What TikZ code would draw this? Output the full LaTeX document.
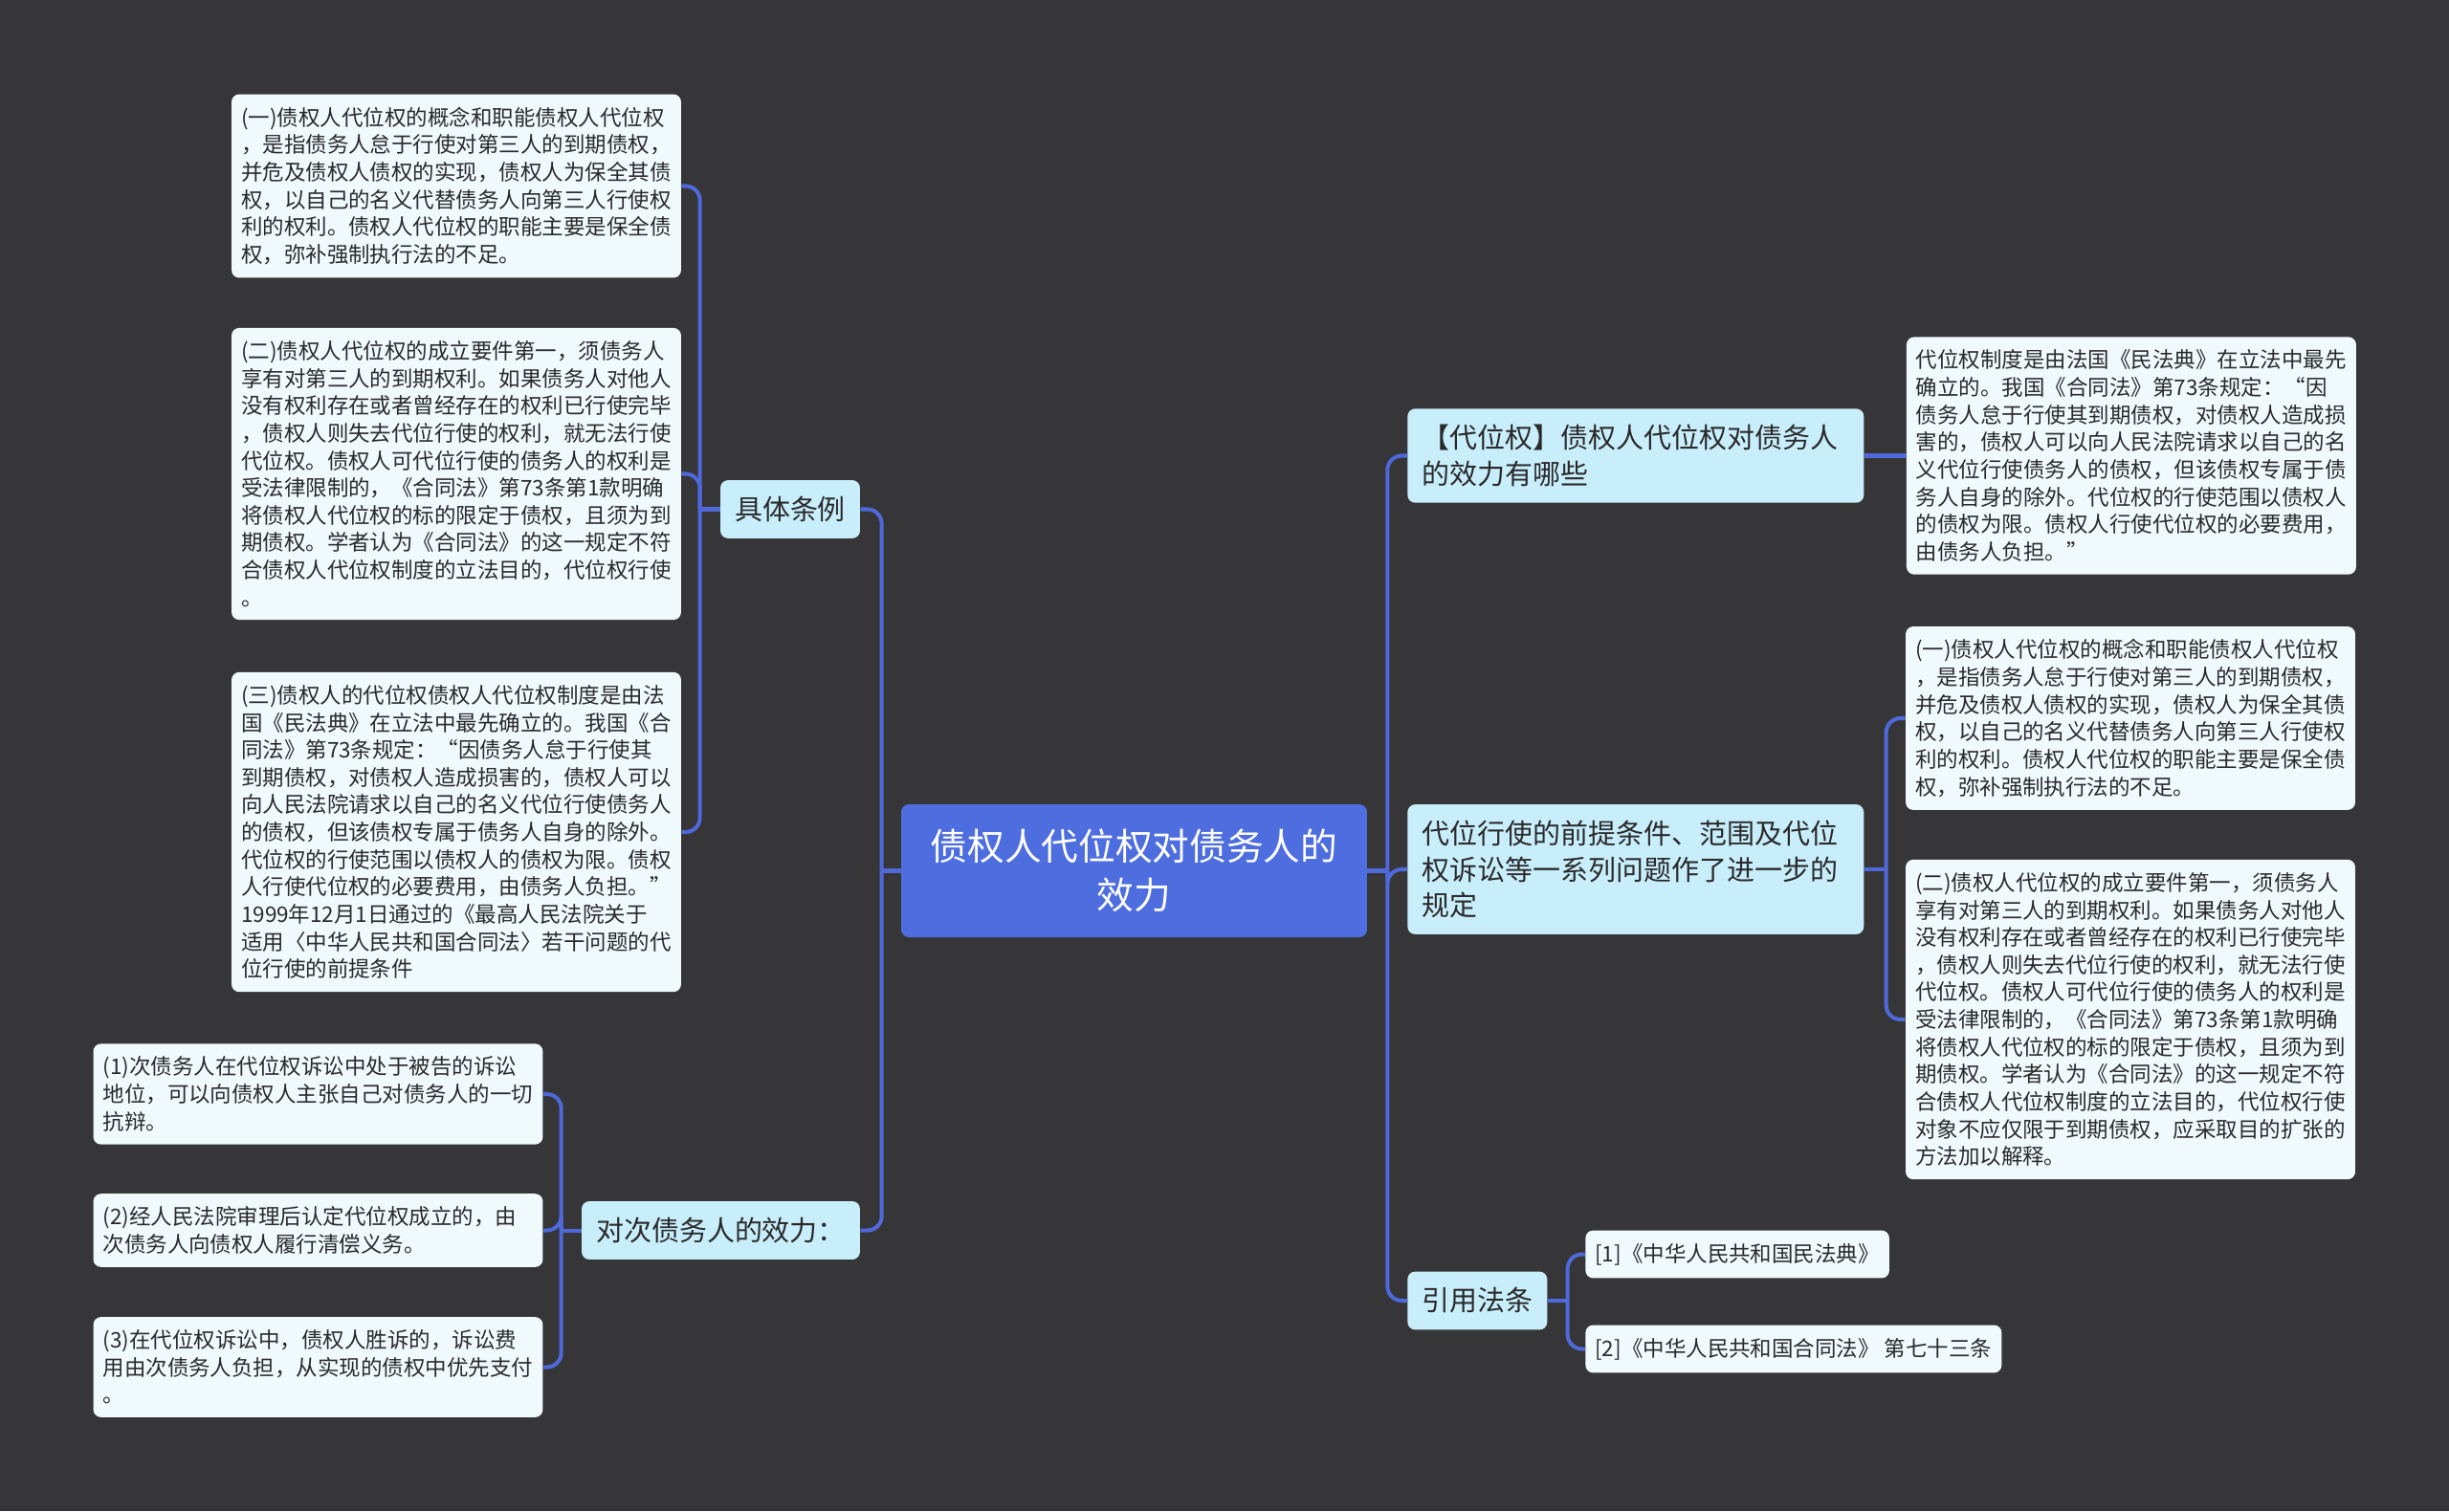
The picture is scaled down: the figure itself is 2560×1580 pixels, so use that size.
\documentclass[tikz,border=0pt]{standalone}
\usepackage{fontspec}
\setmainfont{Noto Sans CJK SC}
\usepackage{xcolor}
\usetikzlibrary{positioning}

\definecolor{bgdark}{HTML}{363638}
\definecolor{rootblue}{HTML}{4E6EE0}
\definecolor{branchblue}{HTML}{C8EDFB}
\definecolor{leafwhite}{HTML}{F0FAFD}
\definecolor{linkblue}{HTML}{4F68DA}
\definecolor{inktext}{HTML}{2A2A2A}

\tikzset{
  root/.style={fill=rootblue, text=white, rounded corners=0.16cm, align=center,
    font=\fontsize{22pt}{28.8pt}\selectfont, minimum width=9.74cm, minimum height=2.78cm},
  branch/.style={fill=branchblue, text=inktext, rounded corners=0.16cm, align=left,
    font=\fontsize{16.5pt}{21.3pt}\selectfont, inner xsep=0.3cm, inner ysep=0.34cm},
  leafbase/.style={fill=leafwhite, text=inktext, rounded corners=0.16cm, align=left,
    font=\fontsize{12.8pt}{16.3pt}\selectfont, inner xsep=0.2cm, inner ysep=0.27cm},
  leaf/.style={leafbase, text width=9cm},
  link/.style={draw=linkblue, line width=2.3pt, rounded corners=0.3cm}
}

\begin{document}
\begin{tikzpicture}[x=0.02cm, y=-0.02cm]
    \fill[bgdark] (0,0) rectangle (2560,1580);
    \useasboundingbox (0,0) rectangle (2560,1580);

    % centre
    \node[root] (root) at (1185.5,910.5) {债权人代位权对债务人的\\效力};

    % left side
    \node[branch] (cases) at (826,532.5) {具体条例};
    \node[branch] (third) at (753.5,1286.5) {对次债务人的效力：};

    \node[leaf] (cA) at (477,194.5) {(一)债权人代位权的概念和职能债权人代位权\\
      ，是指债务人怠于行使对第三人的到期债权，\\
      并危及债权人债权的实现，债权人为保全其债\\
      权，以自己的名义代替债务人向第三人行使权\\
      利的权利。债权人代位权的职能主要是保全债\\
      权，弥补强制执行法的不足。};
    \node[leaf] (cB) at (477,495.5) {(二)债权人代位权的成立要件第一，须债务人\\
      享有对第三人的到期权利。如果债务人对他人\\
      没有权利存在或者曾经存在的权利已行使完毕\\
      ，债权人则失去代位行使的权利，就无法行使\\
      代位权。债权人可代位行使的债务人的权利是\\
      受法律限制的，《合同法》第73条第1款明确\\
      将债权人代位权的标的限定于债权，且须为到\\
      期债权。学者认为《合同法》的这一规定不符\\
      合债权人代位权制度的立法目的，代位权行使\\
      。};
    \node[leaf] (cC) at (477,870) {(三)债权人的代位权债权人代位权制度是由法\\
      国《民法典》在立法中最先确立的。我国《合\\
      同法》第73条规定：“因债务人怠于行使其\\
      到期债权，对债权人造成损害的，债权人可以\\
      向人民法院请求以自己的名义代位行使债务人\\
      的债权，但该债权专属于债务人自身的除外。\\
      代位权的行使范围以债权人的债权为限。债权\\
      人行使代位权的必要费用，由债务人负担。”\\
      1999年12月1日通过的《最高人民法院关于\\
      适用〈中华人民共和国合同法〉若干问题的代\\
      位行使的前提条件};

    \node[leaf] (tA) at (332.5,1144) {(1)次债务人在代位权诉讼中处于被告的诉讼\\
      地位，可以向债权人主张自己对债务人的一切\\
      抗辩。};
    \node[leaf] (tB) at (332.5,1286.5) {(2)经人民法院审理后认定代位权成立的，由\\
      次债务人向债权人履行清偿义务。};
    \node[leaf] (tC) at (332.5,1429.5) {(3)在代位权诉讼中，债权人胜诉的，诉讼费\\
      用由次债务人负担，从实现的债权中优先支付\\
      。};

    % right side
    \node[branch, text width=8.94cm, anchor=west] (qA) at (1471,476.5) {【代位权】债权人代位权对债务人\\的效力有哪些};
    \node[branch, text width=8.94cm, anchor=west] (qB) at (1471,909) {代位行使的前提条件、范围及代位\\权诉讼等一系列问题作了进一步的\\规定};
    \node[branch, anchor=west] (laws) at (1471,1360) {引用法条};

    \node[leaf] (qAinfo) [right=0.88cm of qA] {代位权制度是由法国《民法典》在立法中最先\\
      确立的。我国《合同法》第73条规定：“因\\
      债务人怠于行使其到期债权，对债权人造成损\\
      害的，债权人可以向人民法院请求以自己的名\\
      义代位行使债务人的债权，但该债权专属于债\\
      务人自身的除外。代位权的行使范围以债权人\\
      的债权为限。债权人行使代位权的必要费用，\\
      由债务人负担。”};
    \node[leaf] (qBa) at (2227,751) {(一)债权人代位权的概念和职能债权人代位权\\
      ，是指债务人怠于行使对第三人的到期债权，\\
      并危及债权人债权的实现，债权人为保全其债\\
      权，以自己的名义代替债务人向第三人行使权\\
      利的权利。债权人代位权的职能主要是保全债\\
      权，弥补强制执行法的不足。};
    \node[leaf] (qBb) at (2227,1066) {(二)债权人代位权的成立要件第一，须债务人\\
      享有对第三人的到期权利。如果债务人对他人\\
      没有权利存在或者曾经存在的权利已行使完毕\\
      ，债权人则失去代位行使的权利，就无法行使\\
      代位权。债权人可代位行使的债务人的权利是\\
      受法律限制的，《合同法》第73条第1款明确\\
      将债权人代位权的标的限定于债权，且须为到\\
      期债权。学者认为《合同法》的这一规定不符\\
      合债权人代位权制度的立法目的，代位权行使\\
      对象不应仅限于到期债权，应采取目的扩张的\\
      方法加以解释。};
    \node[leafbase, anchor=west] (lawA) at (1657,1311.5) {[1]《中华人民共和国民法典》};
    \node[leafbase, anchor=west] (lawB) at (1657,1410.5) {[2]《中华人民共和国合同法》 第七十三条};

    % spines
    \coordinate (lspine) at ([xshift=-0.4cm]root.west);
    \coordinate (rspine) at ([xshift=0.42cm]root.east);
    \coordinate (cspine) at ([xshift=-0.42cm]cases.west);
    \coordinate (tspine) at ([xshift=-0.42cm]third.west);
    \coordinate (bspine) at ([xshift=0.46cm]qB.east);
    \coordinate (wspine) at ([xshift=0.42cm]laws.east);

    \draw[link] (root.west) -- (lspine);
    \draw[link] (root.east) -- (rspine);
    \draw[link] (cases.east) -| (lspine);
    \draw[link] (third.east) -| (lspine);
    \draw[link] (qA.west) -| (rspine);
    \draw[link] (qB.west) -| (rspine);
    \draw[link] (laws.west) -| (rspine);

    \draw[link] (cases.west) -- (cspine);
    \foreach \leaf in {cA, cB, cC} \draw[link] (\leaf.east) -| (cspine);
    \draw[link] (third.west) -- (tspine);
    \foreach \leaf in {tA, tB, tC} \draw[link] (\leaf.east) -| (tspine);

    \draw[link] (qA.east) -- (qAinfo.west);
    \draw[link] (qB.east) -- (bspine);
    \foreach \leaf in {qBa, qBb} \draw[link] (\leaf.west) -| (bspine);
    \draw[link] (laws.east) -- (wspine);
    \foreach \leaf in {lawA, lawB} \draw[link] (\leaf.west) -| (wspine);
\end{tikzpicture}
\end{document}
